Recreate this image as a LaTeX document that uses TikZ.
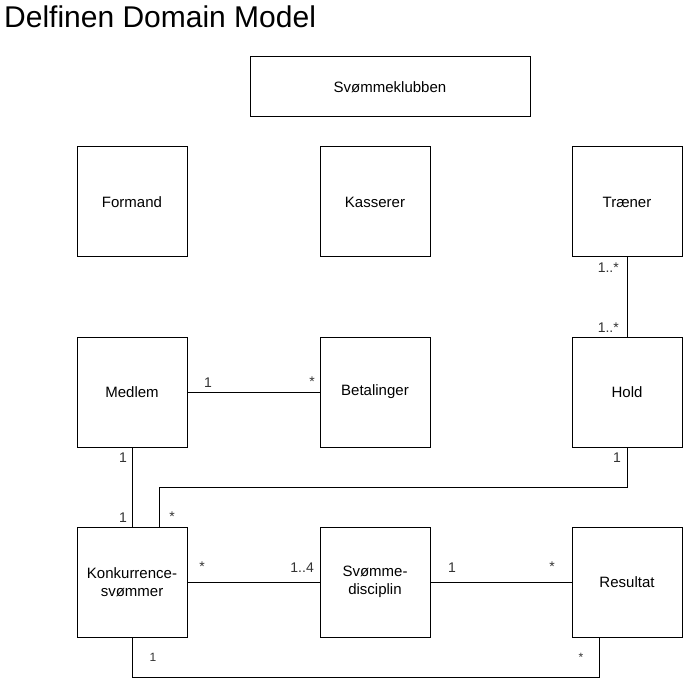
\documentclass[tikz,border=0pt]{standalone}
\usepackage{fontspec}
\setmainfont{Liberation Sans}
\begin{document}
\begin{tikzpicture}[x=1pt,y=-1pt,
  box/.style={draw=black,line width=1pt,fill=white,minimum width=110pt,minimum height=110pt,inner sep=0pt,align=center,font=\fontsize{15}{18}\selectfont},
  conn/.style={draw=black,line width=1pt},
  lbl/.style={inner sep=0pt,font=\fontsize{14}{16}\selectfont,text=black!80}]
\useasboundingbox[fill=white] (0,0) rectangle (683,679);
\node[anchor=base west,inner sep=0pt,font=\fontsize{30}{34}\selectfont] (title) at (4,28) {Delfinen Domain Model};
\node[box,minimum width=280pt,minimum height=60pt] (klub) at (390,87) {Svømmeklubben};
\node[box] (formand) at (132,202) {Formand};
\node[box] (kasserer) at (375,202) {Kasserer};
\node[box] (traener) at (627,202) {Træner};
\node[box] (medlem) at (132,392) {Medlem};
\node[box] (betal) at (375,392) {Betalinger};
\node[box] (hold) at (627,392) {Hold};
\node[box] (konk) at (132,582) {Konkurrence-\\svømmer};
\node[box] (disc) at (375,582) {Svømme-\\disciplin};
\node[box] (res) at (627,582) {Resultat};
\coordinate (kh) at (159,487);
\coordinate (bot) at (0,677);
\coordinate (rb) at (599,637);
\draw[conn] (traener.south) -- (hold.north);
\draw[conn] (medlem.east) -- (betal.west);
\draw[conn] (medlem.south) -- (konk.north);
\draw[conn] (hold.south) |- (kh) -- (kh |- konk.north);
\draw[conn] (konk.east) -- (disc.west);
\draw[conn] (disc.east) -- (res.west);
\draw[conn] (konk.south) -- (konk.south |- bot) -| (rb);
\node[lbl,anchor=east] (a1) at (619,268) {1..*};
\node[lbl,anchor=east] (a2) at (619,328) {1..*};
\node[lbl] (b1) at (208,383) {1};
\node[lbl] (b2) at (312,382) {*};
\node[lbl] (c1) at (123,458) {1};
\node[lbl] (c2) at (123,518) {1};
\node[lbl] (d1) at (617,458) {1};
\node[lbl] (d2) at (172,517) {*};
\node[lbl] (e1) at (202,567) {*};
\node[lbl,anchor=east] (e2) at (314,568) {1..4};
\node[lbl] (f1) at (452,568) {1};
\node[lbl] (f2) at (552,567) {*};
\node[lbl,font=\fontsize{12}{14}\selectfont] (g1) at (153,657) {1};
\node[lbl,font=\fontsize{12}{14}\selectfont] (g2) at (581,657) {*};
\end{tikzpicture}
\end{document}
